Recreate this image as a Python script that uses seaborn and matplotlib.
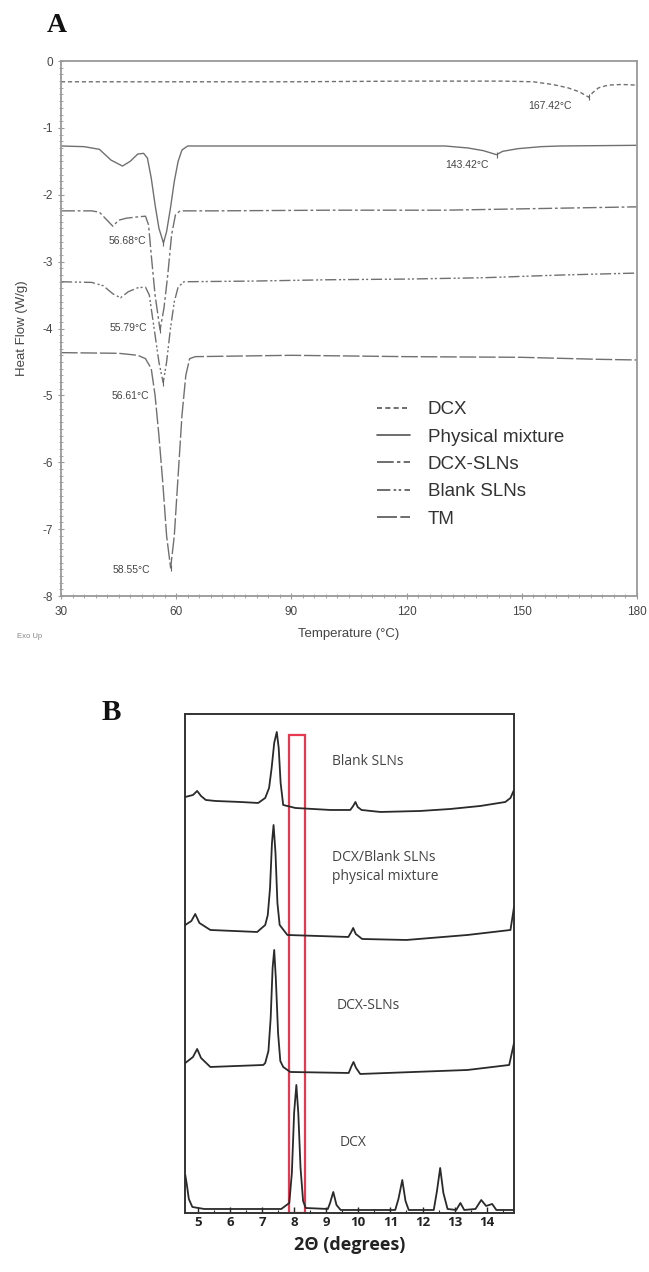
import matplotlib
matplotlib.use("Agg")
import matplotlib.pyplot as plt
import matplotlib.ticker as ticker
from matplotlib.patches import Rectangle
import seaborn as sns
import pandas as pd

# ---- Panel A: DSC thermograms (temperature in degC, heat flow in W/g) ----
dsc_names = ["DCX", "Physical mixture", "DCX-SLNs", "Blank SLNs", "TM"]

dcx_T = [30, 60, 90, 120, 145, 153, 158, 162, 165, 167.42, 168.5, 170, 172.5, 176, 180]
dcx_HF = [-0.31, -0.31, -0.31, -0.30, -0.30, -0.31, -0.35, -0.40, -0.46, -0.54,
          -0.47, -0.40, -0.36, -0.35, -0.36]

pm_T = [30, 36, 40, 43, 46, 48, 50, 51.5, 52.5, 53.5, 54.5, 55.5, 56.68, 57.5, 58.5,
        59.5, 60.5, 61.5, 63, 80, 100, 120, 130, 136, 140, 143.42, 145, 149, 155, 160, 180]
pm_HF = [-1.27, -1.28, -1.32, -1.48, -1.57, -1.50, -1.39, -1.38, -1.45, -1.75, -2.15,
         -2.50, -2.72, -2.55, -2.20, -1.80, -1.50, -1.33, -1.27, -1.27, -1.27, -1.27,
         -1.27, -1.30, -1.34, -1.40, -1.35, -1.31, -1.28, -1.27, -1.26]

sln_T = [30, 38, 40, 42, 43.5, 45, 47, 50, 52, 52.8, 53.5, 54.5, 55.79, 56.8, 57.8,
         58.8, 59.8, 61, 70, 100, 130, 150, 180]
sln_HF = [-2.24, -2.24, -2.26, -2.38, -2.47, -2.38, -2.35, -2.33, -2.32, -2.45, -2.90,
          -3.50, -4.02, -3.70, -3.20, -2.60, -2.30, -2.24, -2.24, -2.23, -2.23, -2.21, -2.18]

blank_T = [30, 38, 41, 43.5, 45.5, 47.5, 50, 52, 53, 54, 55.5, 56.61, 57.5, 58.5, 59.5,
           60.5, 62, 80, 100, 120, 140, 160, 180]
blank_HF = [-3.30, -3.31, -3.36, -3.48, -3.54, -3.45, -3.39, -3.38, -3.50, -3.90, -4.50,
            -4.81, -4.50, -4.00, -3.60, -3.38, -3.30, -3.29, -3.27, -3.26, -3.24, -3.20, -3.17]

tm_T = [30, 45, 50, 52, 53.5, 54.5, 55.5, 56.5, 57.5, 58.55, 59.5, 60.5, 61.5, 62.5,
        63.5, 65, 90, 120, 150, 170, 180]
tm_HF = [-4.36, -4.37, -4.40, -4.45, -4.60, -5.00, -5.60, -6.30, -7.10, -7.58, -7.10,
         -6.20, -5.30, -4.70, -4.45, -4.42, -4.40, -4.42, -4.43, -4.46, -4.47]

# labelled peaks: temperature, heat flow, label offset (pixels)
peak_T = [167.42, 143.42, 56.68, 55.79, 56.61, 58.55]
peak_HF = [-0.54, -1.40, -2.72, -4.02, -4.81, -7.58]
peak_offsets = [(-39, -9), (-30, -10), (-36, 2), (-32, 2), (-33, -13), (-39, -2)]

# ---- Panel B: XRD patterns (2theta in degrees, stacked intensity, a.u.) ----
xrd_names = ["Blank SLNs", "DCX/Blank SLNs\nphysical mixture", "DCX-SLNs", "DCX"]

blank_2t = [4.61, 4.85, 4.98, 5.1, 5.25, 5.55, 6.32, 6.88, 7.10, 7.22, 7.30, 7.38, 7.46,
            7.52, 7.58, 7.66, 8.04, 9.13, 9.75, 9.84, 9.91, 9.98, 10.1, 10.69, 11.93,
            12.87, 13.8, 14.58, 14.74, 14.85]
blank_I = [416, 418, 422, 417, 413, 412, 411, 410, 415, 425, 445, 470, 481, 465, 430,
           408, 405, 403, 403, 407, 411, 406, 403, 401, 402, 404, 407, 411, 415, 423]

pm_2t = [4.61, 4.8, 4.92, 5.05, 5.39, 6.85, 7.10, 7.18, 7.25, 7.31, 7.36, 7.42, 7.48,
         7.55, 7.79, 9.69, 9.78, 9.84, 9.92, 10.12, 11.5, 13.4, 14.74, 14.85]
pm_I = [288, 292, 299, 290, 283, 281, 288, 298, 325, 370, 388, 360, 310, 288, 278, 276,
        281, 285, 279, 274, 273, 278, 283, 306]

sln_2t = [4.61, 4.85, 4.98, 5.1, 5.39, 7.04, 7.10, 7.20, 7.27, 7.33, 7.38, 7.43, 7.50,
          7.57, 7.66, 7.88, 9.70, 9.79, 9.85, 9.93, 10.06, 13.4, 14.70, 14.85]
sln_I = [150, 156, 164, 155, 146, 148, 150, 162, 195, 245, 263, 235, 180, 152, 146, 141,
         140, 147, 151, 145, 139, 143, 148, 170]

dcx_2t = [4.61, 4.66, 4.72, 4.83, 5.2, 7.6, 7.85, 7.93, 8.0, 8.07, 8.13, 8.2, 8.28, 8.36,
          9.05, 9.12, 9.22, 9.32, 9.45, 11.15, 11.25, 11.37, 11.47, 11.57, 12.35, 12.45,
          12.55, 12.65, 12.78, 13.05, 13.18, 13.3, 13.65, 13.83, 13.98, 14.17, 14.3, 14.85]
dcx_I = [38, 28, 14, 6, 4, 4, 10, 40, 100, 128, 100, 45, 12, 5, 4, 10, 21, 8, 3, 3, 14,
         33, 12, 3, 3, 22, 45, 20, 4, 3, 10, 3, 4, 13, 7, 9, 3, 3]

xrd_label_pos = [(9.18, 451), (9.18, 346), (9.33, 207), (9.43, 70)]
highlight_2t = [7.84, 8.33]


def main():
    sns.set_theme(style="white")
    plt.rcParams["font.family"] = ["Liberation Sans", "DejaVu Sans"]
    plt.rcParams["axes.unicode_minus"] = False

    fig = plt.figure(figsize=(6.49, 12.72), dpi=100)

    # ---------------- Panel A ----------------
    ax_a = fig.add_axes([0.094, 0.5314, 0.8875, 0.4206])
    frames = []
    for name, t, hf in zip(dsc_names, [dcx_T, pm_T, sln_T, blank_T, tm_T],
                           [dcx_HF, pm_HF, sln_HF, blank_HF, tm_HF]):
        frames.append(pd.DataFrame({"Temperature": t, "HeatFlow": hf, "Sample": name}))
    df_a = pd.concat(frames, ignore_index=True)

    dash_map = {"DCX": (3, 2), "Physical mixture": "", "DCX-SLNs": (10, 2, 2, 2),
                "Blank SLNs": (8, 2, 1.5, 1.5, 1.5, 2), "TM": (12, 2)}
    sns.lineplot(data=df_a, x="Temperature", y="HeatFlow", style="Sample",
                 style_order=dsc_names, dashes=dash_map, color="#707070",
                 linewidth=1.0, sort=False, estimator=None, ax=ax_a)

    ax_a.plot(peak_T, peak_HF, ls="none", marker="|", ms=5, mew=0.8, color="#666666")
    for t, hf, off in zip(peak_T, peak_HF, peak_offsets):
        ax_a.annotate(f"{t:.2f}°C", xy=(t, hf), xytext=off, textcoords="offset pixels",
                      ha="center", va="center", fontsize=7.5, color="#444444")

    ax_a.set_xlim(30, 180)
    ax_a.set_ylim(-8, 0)
    ax_a.xaxis.set_major_locator(ticker.MultipleLocator(30))
    ax_a.xaxis.set_minor_locator(ticker.MultipleLocator(3))
    ax_a.yaxis.set_major_locator(ticker.MultipleLocator(1))
    ax_a.yaxis.set_minor_locator(ticker.MultipleLocator(0.1))
    ax_a.tick_params(which="both", direction="inout", colors="#999999",
                     labelcolor="#444444", labelsize=8.5, bottom=True, left=True)
    ax_a.tick_params(which="major", length=5, width=0.8)
    ax_a.tick_params(which="minor", length=2.5, width=0.6)
    ax_a.tick_params(axis="x", pad=5)
    for sp in ax_a.spines.values():
        sp.set_color("#999999")
        sp.set_linewidth(1.3)
    ax_a.set_xlabel("Temperature (°C)", fontsize=9.5, color="#444444", labelpad=7)
    ax_a.set_ylabel("Heat Flow (W/g)", fontsize=9.5, color="#444444", labelpad=10)

    handles, labels = ax_a.get_legend_handles_labels()
    leg = ax_a.legend(handles, labels, loc="upper left", frameon=False,
                      bbox_to_anchor=(377 / 649, 1 - 401 / 1272),
                      bbox_transform=fig.transFigure, borderpad=0, borderaxespad=0,
                      fontsize=13.5, handlelength=1.75, handletextpad=0.95,
                      labelspacing=0.55, labelcolor="#333333")
    for h in leg.legend_handles:
        h.set_color("#555555")
        h.set_linewidth(1.2)

    fig.text(47 / 649, 1 - 32 / 1272, "A", fontsize=20, fontweight="bold",
             family="Liberation Serif", color="#111111")
    fig.text(17 / 649, 1 - 638 / 1272, "Exo Up", fontsize=5.5, color="#888888")

    # ---------------- Panel B ----------------
    ax_b = fig.add_axes([0.285, 0.0464, 0.507, 0.3923])
    ax_b.add_patch(Rectangle((highlight_2t[0], 0), highlight_2t[1] - highlight_2t[0], 478,
                             fill=False, edgecolor="#e8384f", linewidth=1.6, zorder=1))
    for t, inten in zip([blank_2t, pm_2t, sln_2t, dcx_2t], [blank_I, pm_I, sln_I, dcx_I]):
        sns.lineplot(x=t, y=inten, color="#2a2a2a", linewidth=1.3, sort=False,
                     estimator=None, ax=ax_b, zorder=3)
    for name, (x, y) in zip(xrd_names, xrd_label_pos):
        ax_b.text(x, y, name, ha="left", va="center", fontsize=10, color="#444444",
                  family=["Open Sans", "DejaVu Sans"], linespacing=1.35)

    ax_b.set_xlim(4.6, 14.85)
    ax_b.set_ylim(0, 499)
    ax_b.set_yticks([])
    ax_b.xaxis.set_major_locator(ticker.MultipleLocator(1))
    ax_b.xaxis.set_minor_locator(ticker.MultipleLocator(0.5))
    ax_b.tick_params(axis="x", which="both", direction="in", bottom=True, colors="#222222",
                     labelsize=9.5, pad=2)
    ax_b.tick_params(axis="x", which="major", length=4, width=1)
    ax_b.tick_params(axis="x", which="minor", length=2, width=0.8)
    for lab in ax_b.get_xticklabels():
        lab.set_fontfamily(["Open Sans", "DejaVu Sans"])
        lab.set_fontweight("bold")
    for sp in ax_b.spines.values():
        sp.set_color("#333333")
        sp.set_linewidth(1.4)
    ax_b.set_xlabel("2Θ (degrees)", fontsize=13, fontweight="bold", color="#222222",
                    family=["Open Sans", "DejaVu Sans"], labelpad=5)
    ax_b.set_ylabel("")

    fig.text(102 / 649, 1 - 720 / 1272, "B", fontsize=21, fontweight="bold",
             family="Liberation Serif", color="#111111")

    fig.savefig("out.png", dpi=100)


if __name__ == "__main__":
    main()
